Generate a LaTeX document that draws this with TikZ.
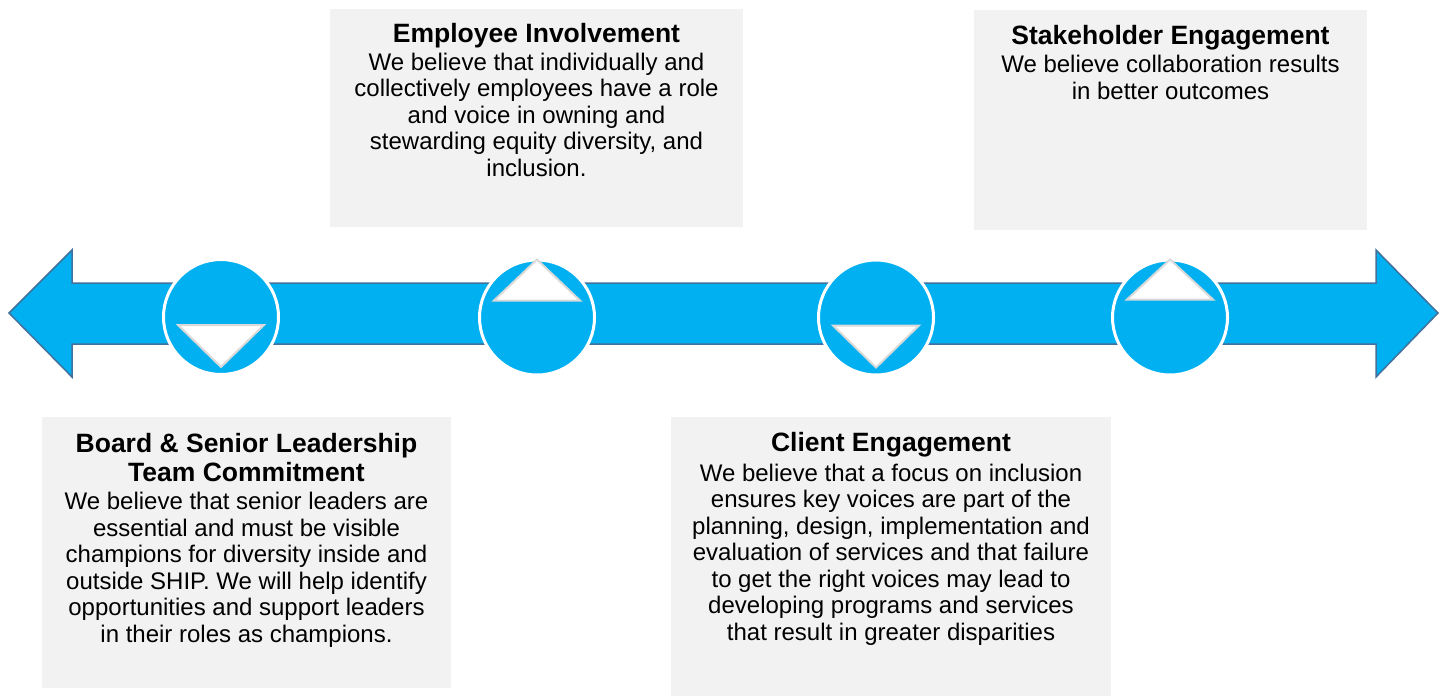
\documentclass[tikz,border=0pt]{standalone}
\usepackage{fontspec}
\setmainfont{Liberation Sans}
\definecolor{lineblue}{HTML}{00B0F0}
\definecolor{lineedge}{HTML}{41719C}
\definecolor{panelgray}{HTML}{F2F2F2}
\definecolor{notchedge}{HTML}{D9D9D9}
\newcommand{\headfont}{\bfseries\fontsize{13.25}{15}\selectfont}
\tikzset{
  panel/.style={rectangle, fill=panelgray, inner sep=0pt},
  % anchored on the baseline of the last line
  blurb/.style={align=center, inner sep=0pt, anchor=base,
    font=\fontsize{12}{13.25}\selectfont},
  stop/.style={circle, fill=lineblue, draw=white, line width=1.5pt,
    inner sep=0pt, minimum size=57.5pt},
  notch/.style={fill=white, draw=notchedge, line width=1pt, line join=miter}
}
\begin{document}
\begin{tikzpicture}[x=0.5pt, y=-0.5pt]
  \useasboundingbox (0,0) rectangle (1444,696);

  % text panels
  \node (board)   [panel, minimum width=204.5pt, minimum height=135.5pt] at (246.5,552.5) {};
  \node (staff)   [panel, minimum width=206.5pt, minimum height=109pt]   at (536.5,118) {};
  \node (client)  [panel, minimum width=220pt,   minimum height=139.5pt] at (891,556.5) {};
  \node (partner) [panel, minimum width=196.5pt, minimum height=110pt]   at (1170.5,120) {};

  % the double arrow
  \draw[fill=lineblue, draw=lineedge, line width=0.75pt, line join=miter]
    (9,313) -- (72,250) -- (72,283) -- (1376,283) -- (1376,250) -- (1438,313)
    -- (1376,377) -- (1376,344) -- (72,344) -- (72,377) -- cycle;

  % stops on the arrow
  \node (s1) [stop] at (221,317) {};
  \node (s2) [stop] at (537,317.5) {};
  \node (s3) [stop] at (876,317.5) {};
  \node (s4) [stop] at (1170,317.5) {};

  \draw[notch] ([shift={(-43,8)}]s1.center) -- ([shift={(43,8)}]s1.center) -- ([shift={(0,50)}]s1.center) -- cycle;
  \draw[notch] ([shift={(-43,-17)}]s2.center) -- ([shift={(43,-17)}]s2.center) -- ([shift={(0,-58)}]s2.center) -- cycle;
  \draw[notch] ([shift={(-43,8)}]s3.center) -- ([shift={(43,8)}]s3.center) -- ([shift={(0,50)}]s3.center) -- cycle;
  \draw[notch] ([shift={(-43,-18)}]s4.center) -- ([shift={(43,-18)}]s4.center) -- ([shift={(0,-58)}]s4.center) -- cycle;

  % panel texts
  \node (boardtxt) [blurb] at (246.5,642) {{\headfont Board \& Senior Leadership}\\[1.5pt]
    {\headfont Team Commitment}\\[0.7pt]
    We believe that senior leaders are\\
    essential and must be visible\\
    champions for diversity inside and\\
    outside SHIP. We will help identify\\
    opportunities and support leaders\\
    in their roles as champions.};
  \node (stafftxt) [blurb] at (536.5,176) {{\headfont Employee Involvement}\\[0.7pt]
    We believe that individually and\\
    collectively employees have a role\\
    and voice in owning and\\
    stewarding equity diversity, and\\
    inclusion.};
  \node (clienttxt) [blurb] at (891,640) {{\headfont Client Engagement}\\[1.5pt]
    We believe that a focus on inclusion\\
    ensures key voices are part of the\\
    planning, design, implementation and\\
    evaluation of services and that failure\\
    to get the right voices may lead to\\
    developing programs and services\\
    that result in greater disparities};
  \node (partnertxt) [blurb] at (1170.5,99) {{\headfont Stakeholder Engagement}\\[0.7pt]
    We believe collaboration results\\
    in better outcomes};
\end{tikzpicture}
\end{document}
